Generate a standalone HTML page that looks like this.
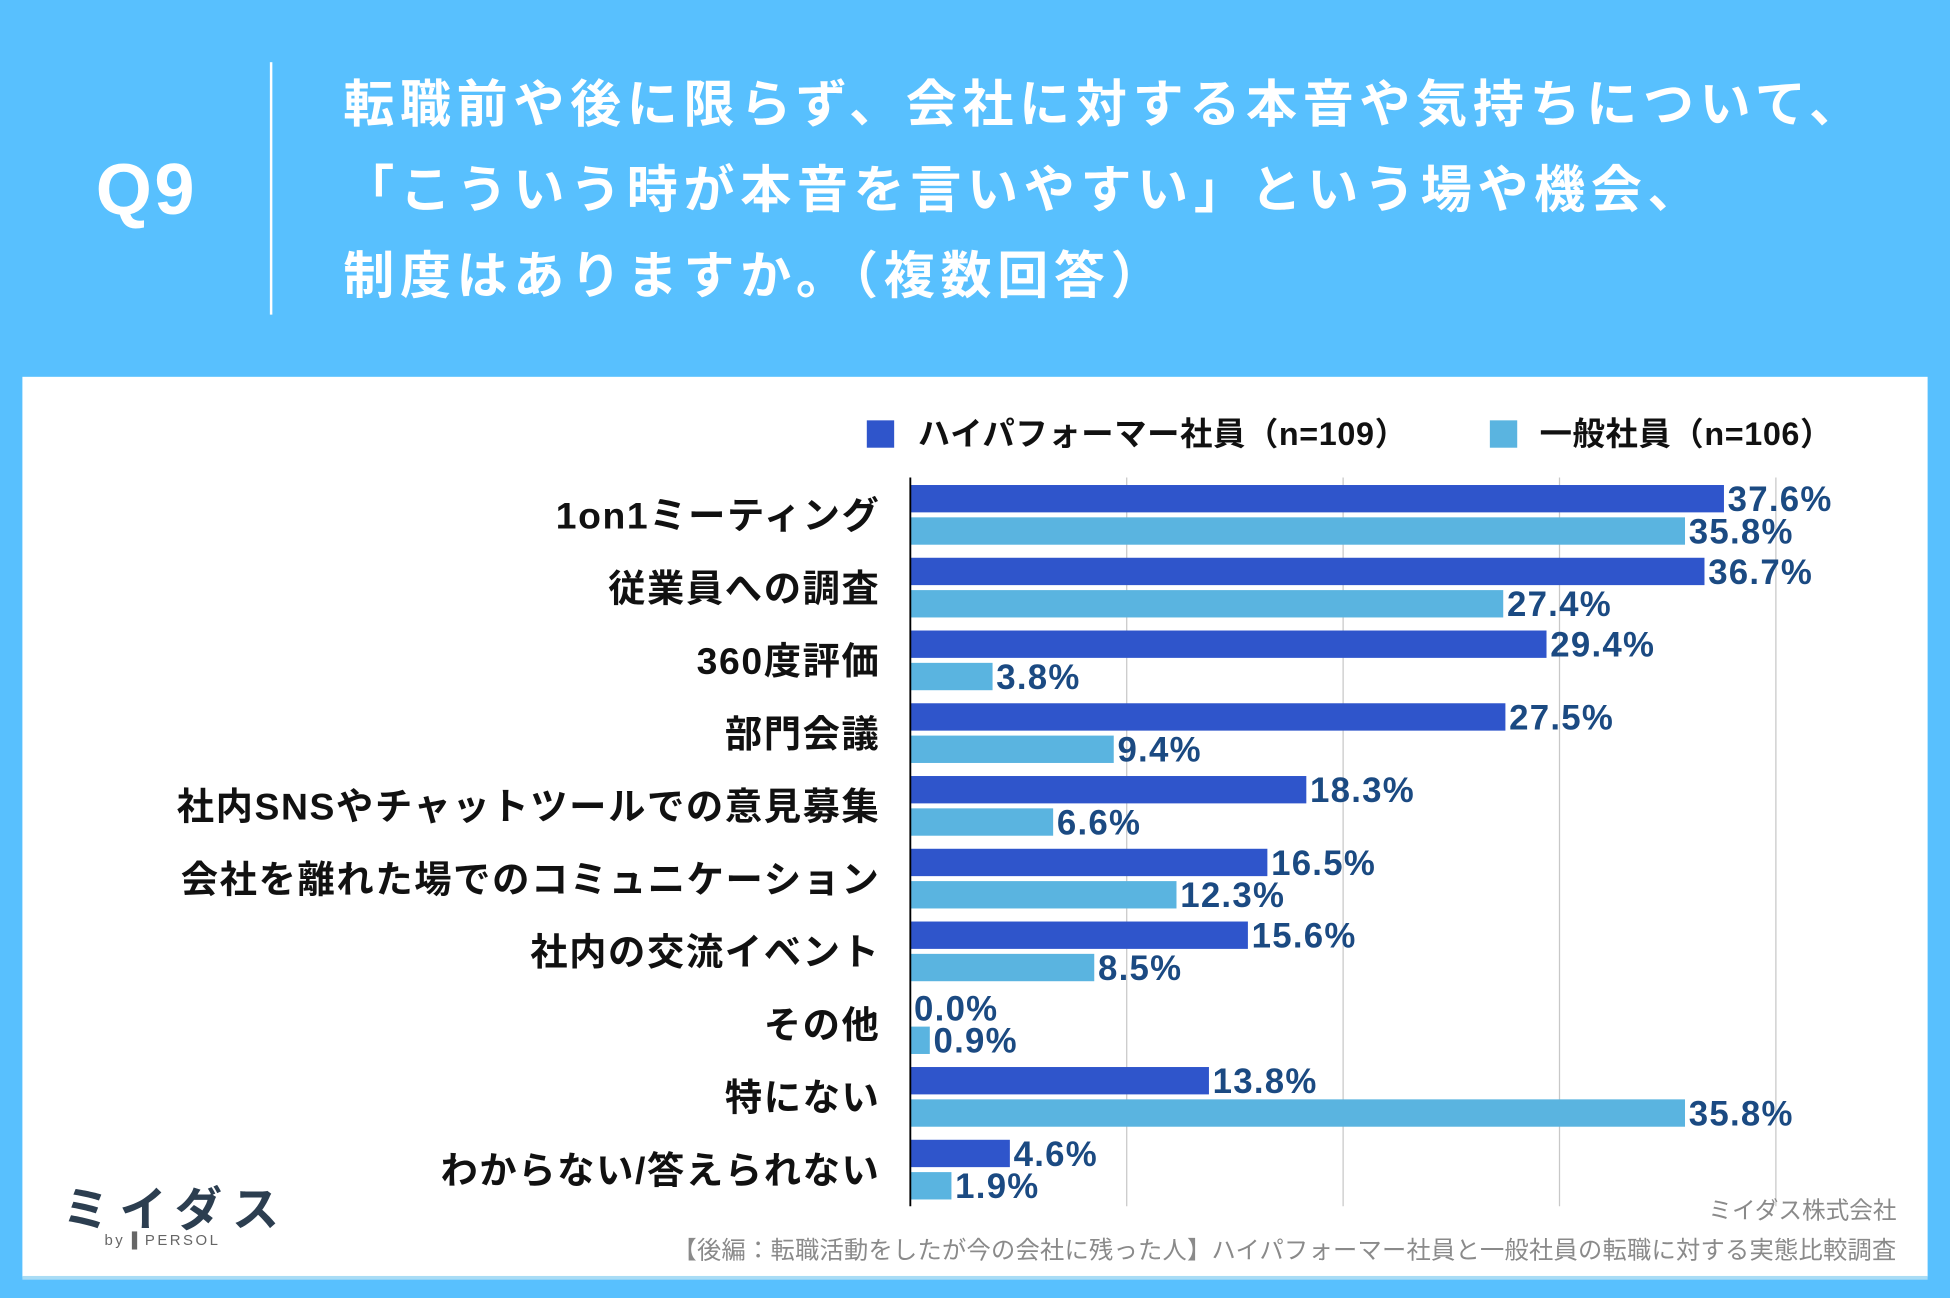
<!DOCTYPE html>
<html><head><meta charset="utf-8"><style>
html,body{margin:0;padding:0;width:1950px;height:1298px;overflow:hidden;background:#58C0FE;}
#wrap{position:absolute;left:0;top:0;width:1568px;height:1044px;transform:scale(1.24362);transform-origin:0 0;font-family:"Liberation Sans","Noto Sans CJK JP",sans-serif;}
.abs{position:absolute;}
</style></head><body>
<div id="wrap">
  <div class="abs" style="left:77px;top:119px;font-size:58px;font-weight:bold;color:#fff;letter-spacing:2px;">Q9</div>
  <div class="abs" style="left:217px;top:50px;width:2px;height:203px;background:#fff;"></div>
  <div class="abs" style="left:276px;top:46px;font-size:41px;line-height:69px;font-weight:bold;color:#fff;font-family:'Noto Sans CJK JP',sans-serif;white-space:nowrap;letter-spacing:4.6px;">転職前や後に限らず、会社に対する本音や気持ちについて、<br>「こういう時が本音を言いやすい」という場や機会、<br>制度はありますか。（複数回答）</div>
  <div class="abs" style="left:18px;top:303px;width:1532px;height:724px;background:#fff;"></div>
  <div class="abs" style="left:18px;top:1026px;width:1532px;height:3px;background:#a9dcf5;"></div>
  <svg class="abs" id="chart" style="left:0;top:0" width="1568" height="1044"></svg>
  <div class="abs" style="left:50px;top:950px;font-size:38px;font-weight:bold;color:#2c3e50;letter-spacing:8px;font-family:'Noto Sans CJK JP',sans-serif;line-height:40px;">ミイダス</div>
  <div class="abs" style="left:84px;top:990px;font-size:12px;color:#666;letter-spacing:2px;">by ▌PERSOL</div>
  <div class="abs" style="right:43px;top:959px;font-size:19px;color:#8a8a8a;font-family:'Noto Sans CJK JP',sans-serif;">ミイダス株式会社</div>
  <div class="abs" style="right:43px;top:989px;font-size:19.5px;color:#8a8a8a;font-family:'Noto Sans CJK JP',sans-serif;white-space:nowrap;letter-spacing:0.2px;">【後編：転職活動をしたが今の会社に残った人】ハイパフォーマー社員と一般社員の転職に対する実態比較調査</div>
</div>
<script>
const categories=["1on1ミーティング","従業員への調査","360度評価","部門会議","社内SNSやチャットツールでの意見募集","会社を離れた場でのコミュニケーション","社内の交流イベント","その他","特にない","わからない/答えられない"];
const highPerformer=[37.6,36.7,29.4,27.5,18.3,16.5,15.6,0.0,13.8,4.6];
const general=[35.8,27.4,3.8,9.4,6.6,12.3,8.5,0.9,35.8,1.9];
const ticks=[0,10,20,30,40];
const seriesNames=["ハイパフォーマー社員（n=109）","一般社員（n=106）"];
const NS="http://www.w3.org/2000/svg";
const svg=document.getElementById('chart');
const x0=732,pxPer=17.4,top0=390,pitch=58.5,bh=22,gap=4;
const xs=v=>x0+v*pxPer;
const ys=i=>top0+i*pitch;
function mk(t,a){const e=document.createElementNS(NS,t);for(const k in a)e.setAttribute(k,a[k]);svg.appendChild(e);return e;}
ticks.forEach(t=>{if(t===0)return;
  const l=mk('line',{x1:xs(t),x2:xs(t),y1:384,y2:970,stroke:'#c8c8c8','stroke-width':1});
  
  });
const colors=['#2F55CB','#5AB4E0'];
const series=[highPerformer,general];
categories.forEach((c,i)=>{
  const lab=mk('text',{x:708,y:ys(i)+24+11,'text-anchor':'end','font-size':30,'font-weight':'bold',fill:'#111','letter-spacing':'1.3','font-family':'Liberation Sans, Noto Sans CJK JP, sans-serif'});
  lab.textContent=c;
  
  
  series.forEach((s,j)=>{
    const y=ys(i)+j*(bh+gap);
    const r=mk('rect',{x:x0,y:y,width:Math.max(0,xs(s[i])-x0),height:bh,fill:colors[j]});
    
    
    const v=mk('text',{x:xs(s[i])+3,y:y+bh/2+10,'font-size':28,'font-weight':'bold',fill:'#1B4A82','letter-spacing':'1','font-family':'Liberation Sans, sans-serif'});
    v.textContent=s[i].toFixed(1)+'%';
    
    
  });
});
const ax=mk('line',{x1:x0,x2:x0,y1:384,y2:970,stroke:'#000','stroke-width':1.5});


[[697,738],[1198,1238]].forEach((p,j)=>{
  const sq=mk('rect',{x:p[0],y:338,width:22,height:22,fill:colors[j]});
  
  
  const t=mk('text',{x:p[1],y:358,'font-size':26,'font-weight':'bold',fill:'#111','letter-spacing':'0.5','font-family':'Liberation Sans, Noto Sans CJK JP, sans-serif'});
  t.textContent=seriesNames[j];
  
  
});
</script>
</body></html>
